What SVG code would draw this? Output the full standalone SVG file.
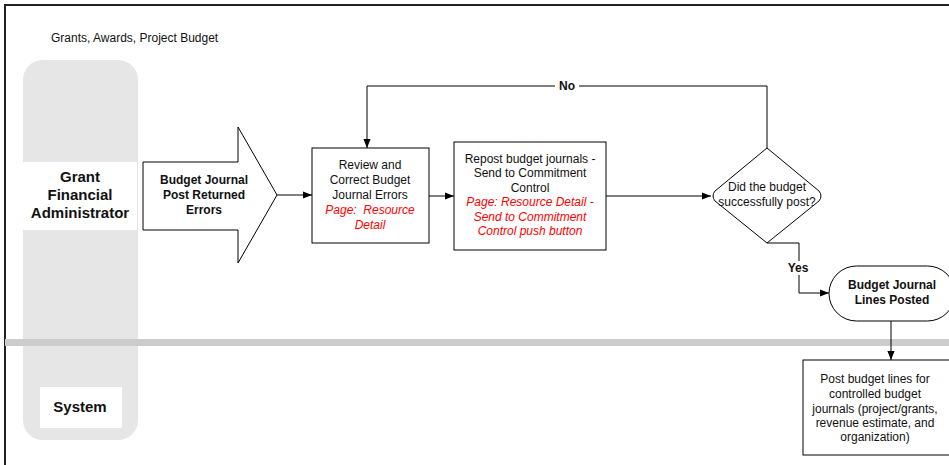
<svg xmlns="http://www.w3.org/2000/svg" width="949" height="465" viewBox="0 0 949 465">
  <style>
    text { font-family: "Liberation Sans", Arial, sans-serif; fill: #111; }
    .t { font-size: 12px; text-anchor: middle; }
    .b { font-weight: bold; }
    .red { fill: #ff0000; font-style: italic; }
    .lane { font-size: 15px; font-weight: bold; text-anchor: middle; }
    .shape { fill: #fff; stroke: #000; stroke-width: 1; }
    .conn { fill: none; stroke: #000; stroke-width: 1; }
  </style>
  <defs>
    <marker id="arrow" viewBox="0 0 10 10" refX="10" refY="5" markerWidth="9" markerHeight="9" markerUnits="userSpaceOnUse" orient="auto">
      <path d="M0,1 L10,5 L0,9 Z" fill="#000"/>
    </marker>
  </defs>

  <rect width="949" height="465" fill="#fff"/>

  <!-- frame -->
  <path d="M5,465 V5 H949" fill="none" stroke="#222" stroke-width="2"/>

  <text x="51" y="42" font-size="12">Grants, Awards, Project Budget</text>

  <!-- lane headers -->
  <g id="lane-header">
    <rect x="23" y="60" width="115" height="380" rx="20" ry="20" fill="#e6e6e6"/>
    <rect x="23" y="162" width="114" height="68" fill="#fff"/>
    <text class="lane" x="80" y="182">Grant</text>
    <text class="lane" x="80" y="200">Financial</text>
    <text class="lane" x="80" y="218">Administrator</text>
    <rect x="40" y="387" width="82" height="41" fill="#fff"/>
    <text class="lane" x="80" y="412">System</text>
  </g>

  <!-- lane separator -->
  <rect x="5" y="339" width="944" height="7" fill="#cccccc"/>

  <!-- connectors -->
  <g id="connectors">
    <path class="conn" d="M277,195 H312" marker-end="url(#arrow)"/>
    <path class="conn" d="M429,196 H454" marker-end="url(#arrow)"/>
    <path class="conn" d="M606,196 H711" marker-end="url(#arrow)"/>
    <path class="conn" d="M767,148 V86 H367 V148" marker-end="url(#arrow)"/>
    <path class="conn" d="M767,243 H799 V293 H829" marker-end="url(#arrow)"/>
    <path class="conn" d="M891,321 V360" marker-end="url(#arrow)"/>
    <rect x="555" y="79" width="24" height="14" fill="#fff"/>
    <text class="t b" x="567" y="90">No</text>
    <rect x="785" y="261" width="27" height="14" fill="#fff"/>
    <text class="t b" x="798" y="272">Yes</text>
  </g>

  <g id="start-arrow">
    <path class="shape" d="M143,162 H238 V127 L277,195 L238,263 V230 H143 Z"/>
    <text class="t b" x="204" y="184">Budget Journal</text>
    <text class="t b" x="204" y="199">Post Returned</text>
    <text class="t b" x="204" y="214">Errors</text>
  </g>

  <g id="review-box">
    <rect class="shape" x="312" y="148" width="117" height="95"/>
    <text class="t" x="370" y="169">Review and</text>
    <text class="t" x="370" y="184">Correct Budget</text>
    <text class="t" x="370" y="199">Journal Errors</text>
    <text class="t red" x="370" y="214" xml:space="preserve">Page:  Resource</text>
    <text class="t red" x="370" y="229">Detail</text>
  </g>

  <g id="repost-box">
    <rect class="shape" x="454" y="142" width="152" height="108"/>
    <text class="t" x="530" y="163">Repost budget journals -</text>
    <text class="t" x="530" y="177">Send to Commitment</text>
    <text class="t" x="530" y="192">Control</text>
    <text class="t red" x="530" y="206">Page: Resource Detail -</text>
    <text class="t red" x="530" y="221">Send to Commitment</text>
    <text class="t red" x="530" y="235">Control push button</text>
  </g>

  <g id="decision">
    <path class="shape" d="M767,148 L819,191 Q823,196 819,201 L767,243 L715,201 Q711,196 715,191 Z"/>
    <text class="t" x="767" y="191">Did the budget</text>
    <text class="t" x="767" y="206">successfully post?</text>
  </g>

  <g id="posted">
    <rect class="shape" x="829" y="266" width="126" height="55" rx="27.5" ry="27.5"/>
    <text class="t b" x="892" y="289">Budget Journal</text>
    <text class="t b" x="892" y="304">Lines Posted</text>
  </g>

  <g id="system-post">
    <rect class="shape" x="803" y="360" width="150" height="95"/>
    <text class="t" x="875" y="383">Post budget lines for</text>
    <text class="t" x="875" y="398">controlled budget</text>
    <text class="t" x="875" y="413">journals (project/grants,</text>
    <text class="t" x="875" y="427">revenue estimate, and</text>
    <text class="t" x="875" y="441">organization)</text>
  </g>
</svg>
